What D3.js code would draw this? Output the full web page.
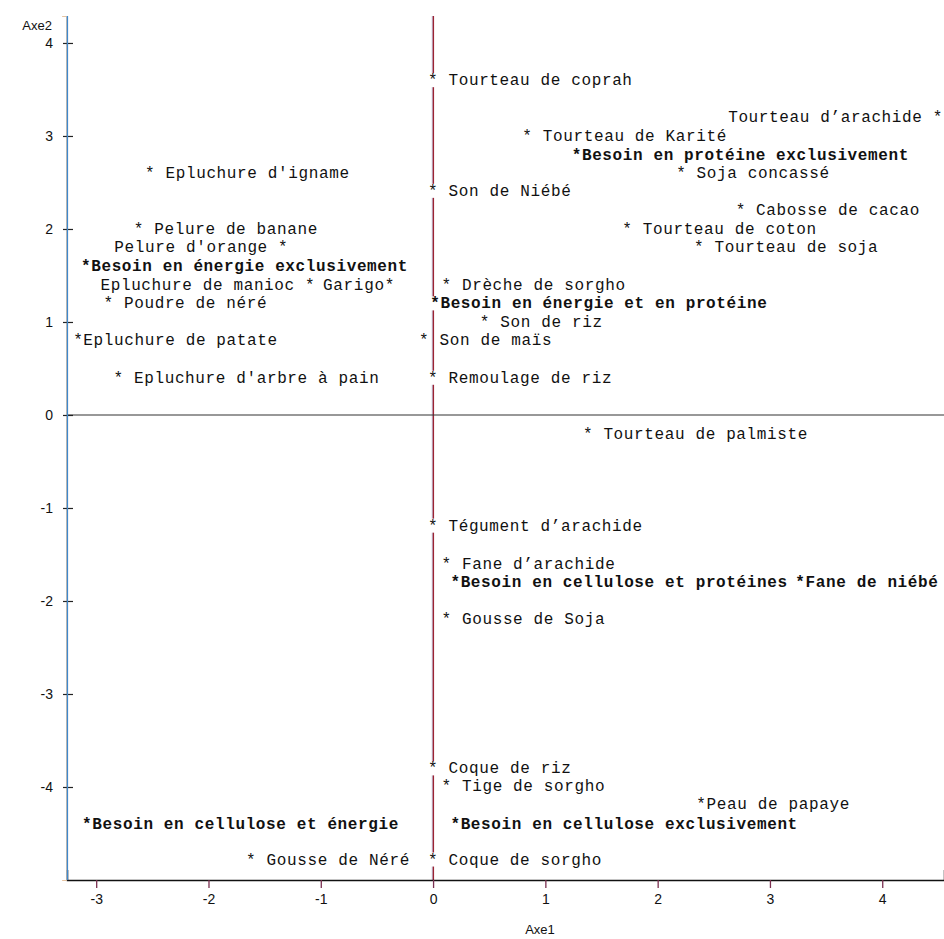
<!DOCTYPE html>
<html>
<head>
<meta charset="utf-8">
<script src="https://cdn.jsdelivr.net/npm/d3@7"></script>
<style>
  body { margin: 0; background: #fff; }
</style>
</head>
<body>
<div id="chart"></div>
<script>
// each label carries its own "*" : the star sits on the point
const labels = [
  "* Tourteau de coprah",
  "Tourteau d’arachide *",
  "* Tourteau de Karité",
  "*Besoin en protéine exclusivement",
  "* Soja concassé",
  "* Epluchure d'igname",
  "* Son de Niébé",
  "* Cabosse de cacao",
  "* Pelure de banane",
  "* Tourteau de coton",
  "Pelure d'orange *",
  "* Tourteau de soja",
  "*Besoin en énergie exclusivement",
  "Epluchure de manioc *",
  "Garigo*",
  "* Drèche de sorgho",
  "* Poudre de néré",
  "*Besoin en énergie et en protéine",
  "* Son de riz",
  "*Epluchure de patate",
  "* Son de maïs",
  "* Epluchure d'arbre à pain",
  "* Remoulage de riz",
  "* Tourteau de palmiste",
  "* Tégument d’arachide",
  "* Fane d’arachide",
  "*Besoin en cellulose et protéines",
  "*Fane de niébé",
  "* Gousse de Soja",
  "* Coque de riz",
  "* Tige de sorgho",
  "*Peau de papaye",
  "*Besoin en cellulose et énergie",
  "*Besoin en cellulose exclusivement",
  "* Gousse de Néré",
  "* Coque de sorgho"
];
const axe1 = [0.00, 4.49, 0.84, 1.28, 2.21, -2.52, 0.00, 2.74, -2.62, 1.73,
              -1.34, 2.37, -3.09, -1.10, -0.39, 0.12, -2.89, 0.02, 0.46, -3.16,
              -0.08, -2.80, 0.00, 1.38, 0.00, 0.12, 0.20, 3.27, 0.12, 0.00,
              0.12, 2.39, -3.08, 0.20, -1.62, 0.00];
const axe2 = [3.60, 3.20, 3.00, 2.80, 2.60, 2.60, 2.41, 2.20, 2.00, 2.00,
              1.81, 1.81, 1.60, 1.40, 1.40, 1.40, 1.20, 1.20, 1.00, 0.81,
              0.81, 0.40, 0.40, -0.20, -1.19, -1.60, -1.80, -1.80, -2.19, -3.80,
              -3.99, -4.18, -4.40, -4.40, -4.78, -4.78];
const boldLabels = [
  "*Besoin en protéine exclusivement",
  "*Besoin en énergie exclusivement",
  "*Besoin en énergie et en protéine",
  "*Besoin en cellulose et protéines",
  "*Fane de niébé",
  "*Besoin en cellulose et énergie",
  "*Besoin en cellulose exclusivement"
];
const xTicks = [-3, -2, -1, 0, 1, 2, 3, 4];
const yTicks = [-4, -3, -2, -1, 0, 1, 2, 3, 4];
const xDomain = [-3.26, 4.55];
const yDomain = [-5, 4.29];

const width = 944, height = 939;
const CH = 10.2;   // width of one monospace cell

const svg = d3.select("#chart").append("svg")
  .attr("width", width)
  .attr("height", height);

const x = d3.scaleLinear().domain(xDomain).range([67, 944]);
const y = d3.scaleLinear().domain(yDomain).range([880, 16]);

// reference lines through the origin
svg.append("line")
  .attr("x1", x(0) - 0.8).attr("x2", x(0) - 0.8)
  .attr("y1", y(yDomain[1])).attr("y2", y(yDomain[0]))
  .style("stroke", "#9aa6d0")
  .style("stroke-width", 0.7);
svg.append("line")
  .attr("x1", x(0) + 0.3).attr("x2", x(0) + 0.3)
  .attr("y1", y(yDomain[1])).attr("y2", y(yDomain[0]))
  .style("stroke", "#9c2433")
  .style("stroke-width", 1.4);

svg.append("line")
  .attr("x1", x(xDomain[0])).attr("x2", x(xDomain[1]))
  .attr("y1", y(0)).attr("y2", y(0))
  .style("stroke", "#333")
  .style("stroke-width", 1.2);

// labels, with a white cell behind each word so lines break under text
const pts = labels.map((t, i) => ({
  text: t, x: axe1[i], y: axe2[i], bold: boldLabels.includes(t)
}));

const g = svg.append("g");

pts.forEach(d => {
  let star = d.text.indexOf("*");
  let x0 = x(d.x) - star * CH - CH / 2;
  let cy = y(d.y);
  let re = /\S+/g, m;
  while ((m = re.exec(d.text)) !== null) {
    g.append("rect")
      .attr("x", x0 + m.index * CH)
      .attr("y", cy - 7)
      .attr("width", m[0].length * CH)
      .attr("height", 14)
      .style("fill", "#fff");
  }
  g.append("text")
    .attr("x", x0)
    .attr("y", cy + 5)
    .attr("textLength", d.text.length * CH)
    .attr("lengthAdjust", "spacing")
    .style("font-family", "'Liberation Mono', 'DejaVu Sans Mono', monospace")
    .style("font-size", "16px")
    .style("font-weight", d.bold ? "bold" : "normal")
    .style("fill", "#111")
    .style("white-space", "pre")
    .text(d.text);
});

// axes
let xAxis = svg.append("g")
  .attr("transform", "translate(0," + y(yDomain[0]) + ")")
  .call(d3.axisBottom(x).tickValues(xTicks).tickSize(-10).tickPadding(14)
    .tickFormat(d => String(d)));

xAxis.select(".domain").style("stroke", "#111").style("stroke-width", 1.5);
xAxis.selectAll(".tick line").attr("y2", 8)
  .style("stroke", "#7a3050").style("stroke-width", 1.3);
xAxis.selectAll("text")
  .style("font-family", "'Liberation Sans', Arial, sans-serif")
  .style("font-size", "14px")
  .style("fill", "#111");

let yAxis = svg.append("g")
  .attr("transform", "translate(" + x(xDomain[0]) + ",0)")
  .call(d3.axisLeft(y).tickValues(yTicks).tickSize(4).tickPadding(10)
    .tickFormat(d => String(d)));

yAxis.select(".domain").style("stroke", "#e0b58a").style("stroke-width", 0.8)
  .attr("transform", "translate(-0.9,0)");
yAxis.append("line")
  .attr("x1", 0.4).attr("x2", 0.4)
  .attr("y1", y(yDomain[1])).attr("y2", y(yDomain[0]))
  .style("stroke", "#3f88cc").style("stroke-width", 1.4);
yAxis.selectAll(".tick line").attr("x1", 6).attr("x2", -4)
  .style("stroke", "#222").style("stroke-width", 1.2);
yAxis.selectAll("text")
  .style("font-family", "'Liberation Sans', Arial, sans-serif")
  .style("font-size", "14px")
  .style("fill", "#111");

svg.append("text")
  .attr("x", 52).attr("y", 30)
  .attr("text-anchor", "end")
  .style("font-family", "'Liberation Sans', Arial, sans-serif")
  .style("font-size", "13px")
  .style("fill", "#111")
  .text("Axe2");

svg.append("text")
  .attr("x", 540).attr("y", 934)
  .attr("text-anchor", "middle")
  .style("font-family", "'Liberation Sans', Arial, sans-serif")
  .style("font-size", "13px")
  .style("fill", "#111")
  .text("Axe1");
</script>
</body>
</html>
